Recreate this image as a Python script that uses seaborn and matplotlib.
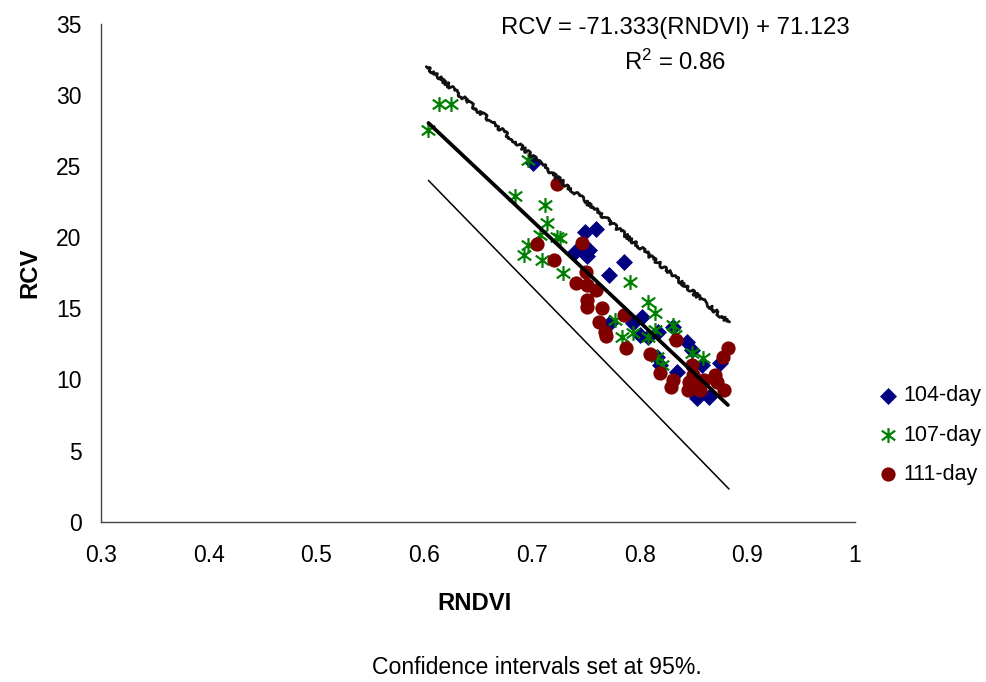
import numpy as np
import pandas as pd
import matplotlib
matplotlib.use("Agg")
import matplotlib.pyplot as plt
from matplotlib.path import Path
import seaborn as sns

# ---------------- data ----------------
x_104 = [0.701, 0.749, 0.760, 0.740, 0.753, 0.751, 0.786, 0.772, 0.802, 0.794,
         0.773, 0.817, 0.831, 0.844, 0.849, 0.808, 0.819, 0.835, 0.816, 0.858,
         0.875, 0.853, 0.864, 0.800]
y_104 = [25.22, 20.37, 20.58, 18.97, 19.11, 18.69, 18.26, 17.35, 14.40, 13.97,
         13.97, 13.34, 13.69, 12.64, 12.07, 12.99, 11.02, 10.53, 11.58, 11.02,
         11.16, 8.70, 8.77, 13.13]

x_107 = [0.604, 0.614, 0.625, 0.696, 0.684, 0.712, 0.714, 0.708, 0.723, 0.726,
         0.696, 0.693, 0.709, 0.729, 0.791, 0.808, 0.814, 0.777, 0.784, 0.794,
         0.808, 0.814, 0.831, 0.833, 0.816, 0.821, 0.849, 0.859]
y_107 = [27.55, 29.37, 29.37, 25.44, 22.90, 22.27, 21.01, 20.16, 20.02, 19.95,
         19.46, 18.76, 18.40, 17.49, 16.86, 15.45, 14.68, 14.18, 12.99, 13.27,
         12.99, 13.48, 13.83, 13.13, 11.58, 11.02, 11.86, 11.51]

x_111 = [0.723, 0.747, 0.705, 0.721, 0.750, 0.741, 0.751, 0.760, 0.751, 0.751,
         0.765, 0.762, 0.768, 0.769, 0.787, 0.786, 0.810, 0.834, 0.819, 0.831,
         0.829, 0.846, 0.849, 0.853, 0.850, 0.870, 0.872, 0.878, 0.877, 0.882,
         0.845, 0.856, 0.860]
y_111 = [23.73, 19.60, 19.53, 18.40, 17.56, 16.79, 16.65, 16.29, 15.59, 15.10,
         15.03, 14.04, 13.34, 13.06, 12.22, 14.54, 11.79, 12.78, 10.46, 9.96,
         9.47, 9.82, 11.02, 9.47, 10.32, 10.32, 9.82, 9.26, 11.58, 12.22,
         9.26, 9.26, 9.96]

series_labels = ["104-day", "107-day", "111-day"]

slope = -71.333
intercept = 71.123
fit_x = [0.604, 0.882]

ci_x_upper = [0.602, 0.883]
ci_upper = [32.0, 14.0]
ci_x_lower = [0.604, 0.883]
ci_lower = [24.0, 2.3]

x_ticks = [0.3, 0.4, 0.5, 0.6, 0.7, 0.8, 0.9, 1.0]
x_tick_labels = ["0.3", "0.4", "0.5", "0.6", "0.7", "0.8", "0.9", "1"]
y_ticks = [0, 5, 10, 15, 20, 25, 30, 35]

equation_text = "RCV = -71.333(RNDVI) + 71.123"
r2_text = r"R$^{\mathrm{2}}$ = 0.86"
caption = "Confidence intervals set at 95%."

# ---------------- style ----------------
sns.set_style("white")
plt.rcParams["font.family"] = ["Liberation Sans", "DejaVu Sans"]
plt.rcParams["mathtext.fontset"] = "custom"
plt.rcParams["mathtext.rm"] = "Liberation Sans"
plt.rcParams["mathtext.it"] = "Liberation Sans:italic"
plt.rcParams["mathtext.bf"] = "Liberation Sans:bold"
plt.rcParams["text.color"] = "black"
plt.rcParams["axes.labelcolor"] = "black"
plt.rcParams["xtick.color"] = "black"
plt.rcParams["ytick.color"] = "black"

FS = 17.2
FS_TICK = 16.5
FS_LEG = 15.5
FS_CAP = 16.6
BLUE = "#000080"
GREEN = "#008000"
RED = "#800000"

star = Path([(0, -1), (0, 1), (-0.9, -0.65), (0.9, 0.65), (-0.9, 0.65), (0.9, -0.65)],
            [Path.MOVETO, Path.LINETO, Path.MOVETO, Path.LINETO, Path.MOVETO, Path.LINETO])

fig = plt.figure(figsize=(9.87, 6.82), dpi=100)
ax = fig.add_axes([101 / 987, 1 - 521.7 / 682, 754 / 987, 497.7 / 682])

df104 = pd.DataFrame({"x": x_104, "y": y_104})
df107 = pd.DataFrame({"x": x_107, "y": y_107})
df111 = pd.DataFrame({"x": x_111, "y": y_111})

sns.scatterplot(data=df104, x="x", y="y", ax=ax, marker="D", s=75, color=BLUE,
                edgecolor=BLUE, linewidth=0, label=series_labels[0], zorder=3)
sns.scatterplot(data=df107, x="x", y="y", ax=ax, marker=star, s=115, color=GREEN,
                edgecolor=GREEN, linewidth=1.6, label=series_labels[1], zorder=3)
sns.scatterplot(data=df111, x="x", y="y", ax=ax, marker="o", s=105, color=RED,
                edgecolor=RED, linewidth=0, label=series_labels[2], zorder=3)

fit_df = pd.DataFrame({"x": fit_x, "y": [slope * v + intercept for v in fit_x]})
sns.lineplot(data=fit_df, x="x", y="y", ax=ax, color="black", linewidth=2.7,
             zorder=5, legend=False)

lo_df = pd.DataFrame({"x": ci_x_lower, "y": ci_lower})
sns.lineplot(data=lo_df, x="x", y="y", ax=ax, color="black", linewidth=1.1,
             zorder=5, legend=False)
up_df = pd.DataFrame({"x": ci_x_upper, "y": ci_upper})
n_before = len(ax.lines)
sns.lineplot(data=up_df, x="x", y="y", ax=ax, color="#111111", linewidth=2.0,
             zorder=5, legend=False)
for ln in ax.lines[n_before:]:
    ln.set_sketch_params(scale=2.0, length=5, randomness=25)

ax.set_xlim(0.3, 1.0)
ax.set_ylim(0, 35)
ax.set_xticks(x_ticks)
ax.set_xticklabels(x_tick_labels)
ax.set_yticks(y_ticks)
ax.tick_params(axis="both", labelsize=FS_TICK, length=5, width=1, color="#444444",
               direction="out")
ax.tick_params(axis="x", pad=11)
ax.tick_params(axis="y", pad=9)
for side in ["top", "right"]:
    ax.spines[side].set_visible(False)
for side in ["left", "bottom"]:
    ax.spines[side].set_color("#444444")
    ax.spines[side].set_linewidth(1.0)

ax.set_xlabel("RNDVI", fontsize=FS, fontweight="bold")
ax.set_ylabel("RCV", fontsize=FS, fontweight="bold")
ax.xaxis.set_label_coords((475 - 101) / 754, (521.7 - 604) / 497.7)
ax.yaxis.set_label_coords((30 - 101) / 754, 0.5)
ax.xaxis.label.set_va("center")
ax.yaxis.label.set_va("center")

ax.legend(loc="center left", bbox_to_anchor=(880 / 987, 1 - 435 / 682),
          bbox_transform=fig.transFigure, frameon=False, fontsize=FS_LEG,
          handlelength=0.75, handletextpad=0.35, labelspacing=0.85,
          borderpad=0, borderaxespad=0)

fig.text(675 / 987, 1 - 28 / 682, equation_text, ha="center", va="center", fontsize=FS)
fig.text(675 / 987, 1 - 62 / 682, r2_text, ha="center", va="center", fontsize=FS)
fig.text(537 / 987, 1 - 668 / 682, caption, ha="center", va="center", fontsize=FS_CAP)

fig.savefig("out.png", dpi=100, facecolor="white")
